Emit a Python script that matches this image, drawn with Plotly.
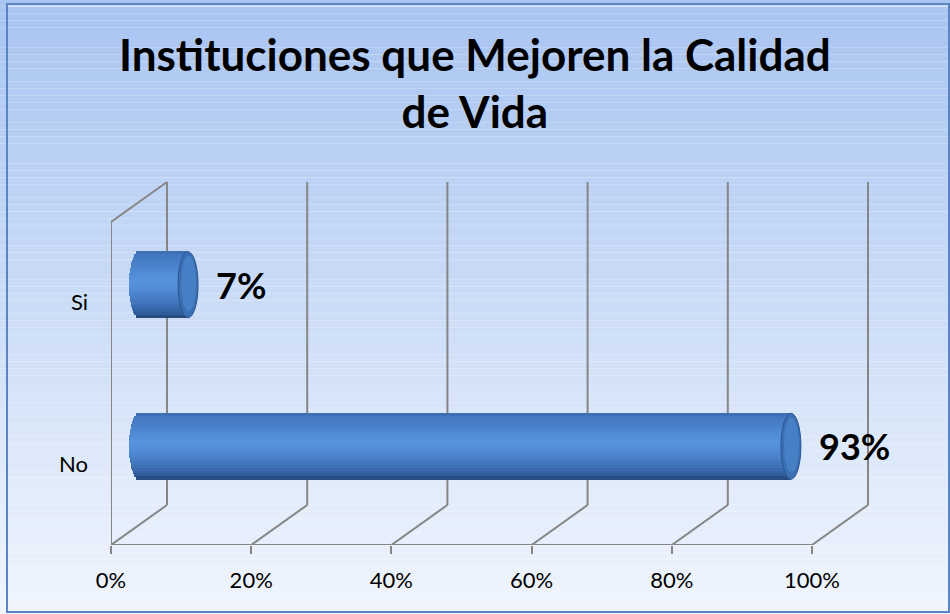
import math
import plotly.graph_objects as go

# ---- data ----
categories = ["No", "Si"]
values = [0.93, 0.07]
labels = ["93%", "7%"]
x_ticks = [0, 0.2, 0.4, 0.6, 0.8, 1.0]
title_text = "Instituciones que Mejoren la Calidad<br>de Vida"

# ---- geometry (layout in pixels) ----
W, H = 950, 614
ML, MR, MT, MB = 111, 70, 170, 69
PX_X = 701.0            # pixels per x unit (0..100%)
PX_Y = 161.5            # pixels per category
plot_w = W - ML - MR
plot_h = H - MT - MB
x_max = plot_w / PX_X
y_max = plot_h / PX_Y

DX = 56 / PX_X          # full depth offset
DY = 40 / PX_Y
BDX = 28 / PX_X         # bars sit at mid depth
BDY = 18 / PX_Y
BAR_H = 66 / PX_Y
CAP_RX = 10             # pixels
CAP_RXU = CAP_RX / PX_X


def px_to_paper_x(px):
    return (px - ML) / plot_w


def px_to_paper_y(py):
    return (H - MB - py) / plot_h


def hex2rgb(h):
    h = h.lstrip("#")
    return tuple(int(h[i:i + 2], 16) for i in (0, 2, 4))


def blend(stops, t):
    for (p0, c0), (p1, c1) in zip(stops, stops[1:]):
        if p0 <= t <= p1:
            f = (t - p0) / (p1 - p0) if p1 > p0 else 0
            a, b = hex2rgb(c0), hex2rgb(c1)
            return "rgb(%d,%d,%d)" % tuple(int(round(a[k] + (b[k] - a[k]) * f)) for k in range(3))
    return stops[-1][1]


cat_pos = [i + 0.5 for i in range(len(categories))]
bar_y = [p + BDY for p in cat_pos]

grid_col = "#868686"
fig = go.Figure()

# cylinder shading stops (top -> bottom)
cyl_stops = [(0.0, "#3566a8"), (0.04, "#4277be"), (0.25, "#4b85ce"), (0.45, "#5894dc"),
             (0.60, "#4f89d2"), (0.80, "#3f72b8"), (0.95, "#2f5a98"), (1.0, "#23426f")]
NS = 24
for i in range(NS):
    t = (i + 0.5) / NS
    u = 1 - 2 * t                      # +1 top, -1 bottom
    ext = CAP_RXU * math.sqrt(max(0.0, 1 - u * u))
    fig.add_trace(go.Bar(
        orientation="h",
        x=[v + ext for v in values],
        y=[b + u * BAR_H / 2 for b in bar_y],
        base=BDX - ext,
        width=BAR_H / NS * 1.25,
        marker=dict(color=blend(cyl_stops, t), line=dict(width=0)),
        hoverinfo="skip", showlegend=False))

shapes = []
# background gradient (whole chart area)
top = (168, 196, 241)
bot = (240, 245, 253)
N = 90
for i in range(N):
    t = i / (N - 1)
    c = tuple(int(round(top[k] + (bot[k] - top[k]) * t)) for k in range(3))
    shapes.append(dict(type="rect", xref="paper", yref="paper", layer="below",
                       x0=px_to_paper_x(0), x1=px_to_paper_x(W),
                       y0=px_to_paper_y(H * (i + 1) / N), y1=px_to_paper_y(H * i / N),
                       fillcolor="rgb(%d,%d,%d)" % c, line=dict(width=0)))

# back wall gridlines and floor diagonals
for t in x_ticks:
    shapes.append(dict(type="line", xref="x", yref="y", layer="below",
                       x0=t + DX, x1=t + DX, y0=DY, y1=len(categories) + DY,
                       line=dict(color=grid_col, width=2)))
    shapes.append(dict(type="line", xref="x", yref="y", layer="below",
                       x0=t, x1=t + DX, y0=0, y1=DY,
                       line=dict(color=grid_col, width=2)))
# left wall
shapes.append(dict(type="line", xref="x", yref="y", layer="below",
                   x0=0, x1=0, y0=0, y1=len(categories), line=dict(color=grid_col, width=2)))
shapes.append(dict(type="line", xref="x", yref="y", layer="below",
                   x0=0, x1=DX, y0=len(categories), y1=len(categories) + DY,
                   line=dict(color=grid_col, width=2)))
for c in range(len(categories) + 1):
    shapes.append(dict(type="line", xref="x", yref="y", layer="below",
                       x0=-7 / PX_X, x1=0, y0=c, y1=c, line=dict(color=grid_col, width=2)))
# floor front line
shapes.append(dict(type="line", xref="x", yref="y", layer="below",
                   x0=-7 / PX_X, x1=x_ticks[-1], y0=0, y1=0, line=dict(color=grid_col, width=2)))

# right end caps
for v, yb in zip(values, bar_y):
    shapes.append(dict(type="circle", xref="x", yref="y", layer="above",
                       xsizemode="pixel", xanchor=BDX + v, x0=-CAP_RX, x1=CAP_RX,
                       y0=yb - BAR_H / 2, y1=yb + BAR_H / 2,
                       fillcolor="#3a6fb4", line=dict(color="#2b5590", width=1)))
    shapes.append(dict(type="circle", xref="x", yref="y", layer="above",
                       xsizemode="pixel", xanchor=BDX + v, x0=-CAP_RX + 3, x1=CAP_RX - 2,
                       y0=yb - BAR_H * 0.40, y1=yb + BAR_H * 0.44,
                       fillcolor="#467fc4", line=dict(width=0)))

# chart border
shapes.append(dict(type="rect", xref="paper", yref="paper", layer="above",
                   x0=px_to_paper_x(7), x1=px_to_paper_x(949),
                   y0=px_to_paper_y(612), y1=px_to_paper_y(4),
                   line=dict(color="#5a84c4", width=2), fillcolor="rgba(0,0,0,0)"))
shapes.append(dict(type="line", xref="paper", yref="paper", layer="above",
                   x0=px_to_paper_x(8), x1=px_to_paper_x(948),
                   y0=px_to_paper_y(6), y1=px_to_paper_y(6),
                   line=dict(color="rgba(255,255,255,0.8)", width=1)))

annotations = [dict(xref="paper", yref="paper", x=px_to_paper_x(W / 2), y=px_to_paper_y(26),
                    xanchor="center", yanchor="top", showarrow=False,
                    text="<b>%s</b>" % title_text,
                    font=dict(family="Lato", size=44, color="black"))]
for v, yb, lab in zip(values, bar_y, labels):
    annotations.append(dict(x=BDX + v, y=yb, xref="x", yref="y", text="<b>%s</b>" % lab,
                            showarrow=False, xanchor="left", yanchor="middle", xshift=26,
                            font=dict(family="Lato", size=36, color="black")))

fig.update_layout(
    width=W, height=H,
    margin=dict(l=ML, r=MR, t=MT, b=MB, autoexpand=False),
    paper_bgcolor="white", plot_bgcolor="rgba(0,0,0,0)",
    barmode="overlay", bargap=0,
    font=dict(family="Lato", size=22, color="black"),
    shapes=shapes, annotations=annotations,
    showlegend=False,
)
fig.update_xaxes(range=[0, x_max], tickvals=x_ticks, tickformat=".0%",
                 ticks="outside", ticklen=8, tickwidth=2, tickcolor=grid_col,
                 ticklabelstandoff=8, showgrid=False, zeroline=False, showline=False,
                 tickfont=dict(family="Lato", size=22, color="black"), fixedrange=True)
fig.update_yaxes(range=[0, y_max], tickvals=cat_pos, ticktext=categories,
                 ticks="", ticklabelstandoff=22, showgrid=False, zeroline=False,
                 showline=False, tickfont=dict(family="Lato", size=22, color="black"),
                 fixedrange=True)

fig.write_html("out.html", config={"displayModeBar": False},
               post_script="document.body.style.margin='0';document.body.style.padding='0';")
